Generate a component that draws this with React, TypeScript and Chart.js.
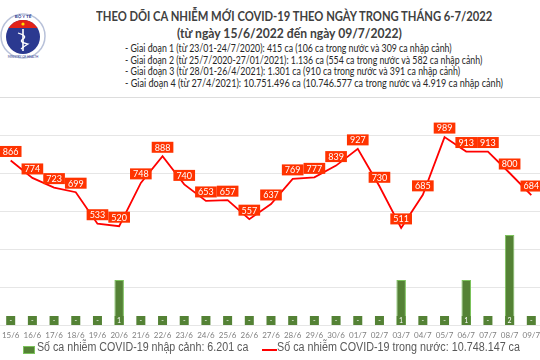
import React, { useEffect, useLayoutEffect, useRef } from 'react';
import { Chart, registerables } from 'chart.js';

Chart.register(...registerables);

const categories = [
  '15/6', '16/6', '17/6', '18/6', '19/6', '20/6', '21/6', '22/6', '23/6', '24/6', '25/6', '26/6', '27/6',
  '28/6', '29/6', '30/6', '01/7', '02/7', '03/7', '04/7', '05/7', '06/7', '07/7', '08/7', '09/7',
];
const domesticCases = [866, 774, 723, 699, 533, 520, 748, 888, 740, 653, 657, 557, 637, 769, 777, 839, 927, 730, 511, 685, 989, 913, 913, 800, 684];
const importedCases = [0, 0, 0, 0, 0, 1, 0, 0, 0, 0, 0, 0, 0, 0, 0, 0, 0, 0, 1, 0, 0, 1, 0, 2, 0];

const titleLine1 = 'THEO DÕI CA NHIỄM MỚI COVID-19 THEO NGÀY TRONG THÁNG 6-7/2022';
const titleLine2 = '(từ ngày 15/6/2022 đến ngày 09/7/2022)';
const phaseLines = [
  '- Giai đoạn 1 (từ 23/01-24/7/2020): 415 ca (106 ca trong nước và 309 ca nhập cảnh)',
  '- Giai đoạn 2 (từ 25/7/2020-27/01/2021): 1.136 ca (554 ca trong nước và 582 ca nhập cảnh)',
  '- Giai đoạn 3 (từ 28/01-26/4/2021): 1.301 ca (910 ca trong nước và 391 ca nhập cảnh)',
  '- Giai đoạn 4 (từ 27/4/2021): 10.751.496 ca (10.746.577 ca trong nước và 4.919 ca nhập cảnh)',
];
const phaseWidths = [327, 357, 335, 378];
const phaseCenters = [52, 63.5, 75, 87];
const legendImported = 'Số ca nhiễm COVID-19 nhập cảnh: 6.201 ca';
const legendDomestic = 'Số ca nhiễm COVID-19 trong nước: 10.748.147 ca';

const BAR_GREEN = '#548235';
const LABEL_RED = '#ff3300';

const labelPlugin = {
  id: 'valueLabels',
  afterDatasetsDraw(chart: any) {
    const ctx = chart.ctx;
    const barMeta = chart.getDatasetMeta(0);
    const lineMeta = chart.getDatasetMeta(1);
    const base = chart.scales.y1.getPixelForValue(0);
    ctx.save();
    ctx.textAlign = 'center';
    ctx.textBaseline = 'middle';
    ctx.font = '7px Lato';
    barMeta.data.forEach((el: any, i: number) => {
      const v = importedCases[i];
      const w = 9, h = 9;
      ctx.fillStyle = BAR_GREEN;
      ctx.fillRect(el.x - w / 2, base - h, w, h);
      ctx.fillStyle = '#ffffff';
      ctx.fillText(v === 0 ? '-' : String(v), el.x, base - h / 2);
    });
    ctx.font = '9px Lato';
    lineMeta.data.forEach((el: any, i: number) => {
      const t = String(domesticCases[i]);
      const tw = ctx.measureText(t).width;
      const w = tw + 6, h = 11;
      const cy = el.y - 9;
      ctx.fillStyle = LABEL_RED;
      ctx.fillRect(el.x - w / 2, cy - h / 2, w, h);
      ctx.fillStyle = '#ffffff';
      ctx.fillText(t, el.x, cy + 0.5);
    });
    ctx.restore();
  },
};

function FitText(props: { text: string; left: number; centerY: number; width: number; font: string; color: string }) {
  const ref = useRef<HTMLDivElement | null>(null);
  useLayoutEffect(() => {
    const el = ref.current;
    if (!el) return;
    const natural = el.scrollWidth;
    if (natural > 0) el.style.transform = `scaleX(${props.width / natural})`;
  }, [props.text, props.width, props.font]);
  return (
    <div
      ref={ref}
      style={{
        position: 'absolute',
        left: props.left,
        top: props.centerY - 10,
        height: 20,
        lineHeight: '20px',
        whiteSpace: 'nowrap',
        font: props.font,
        color: props.color,
        transformOrigin: '0 50%',
        display: 'inline-block',
      }}
    >
      {props.text}
    </div>
  );
}

function Logo() {
  return (
    <svg width="48" height="50" viewBox="0 0 48 50" style={{ position: 'absolute', left: 0, top: 11 }}>
      <circle cx="23" cy="25" r="22" fill="#ffffff" stroke="#b8c1d9" strokeWidth="1.5" />
      <defs>
        <clipPath id="inner">
          <circle cx="23" cy="26" r="17" />
        </clipPath>
      </defs>
      <g clipPath="url(#inner)">
        <rect x="0" y="0" width="48" height="50" fill="#2b3990" />
        <rect x="0" y="0" width="48" height="17" fill="#e2231a" />
      </g>
      <circle cx="23" cy="13" r="1.6" fill="#ffde00" />
      <line x1="23" y1="18" x2="23" y2="40" stroke="#ffffff" strokeWidth="1.6" />
      <path d="M18 22 Q28 25 23 28 Q18 31 28 33 Q23 36 21 38" stroke="#ffffff" strokeWidth="1.2" fill="none" />
      <text x="23" y="6.5" fontSize="4.5" fontFamily="Lato" fontWeight="bold" fill="#2b3990" textAnchor="middle">BỘ Y TẾ</text>
      <text x="23" y="47" fontSize="3" fontFamily="Lato" fill="#2b3990" textAnchor="middle">MINISTRY OF HEALTH</text>
    </svg>
  );
}

export default function App() {
  const canvasRef = useRef<HTMLCanvasElement | null>(null);

  useEffect(() => {
    if (!canvasRef.current) return;
    const chart = new Chart(canvasRef.current, {
      type: 'bar',
      data: {
        labels: categories,
        datasets: [
          {
            type: 'bar',
            label: legendImported,
            data: importedCases,
            yAxisID: 'y1',
            backgroundColor: BAR_GREEN,
            borderColor: '#7cc35c',
            borderWidth: 1,
            barPercentage: 0.44,
            categoryPercentage: 1,
            order: 2,
          },
          {
            type: 'line',
            label: legendDomestic,
            data: domesticCases,
            yAxisID: 'y',
            borderColor: '#ff0000',
            borderWidth: 1.8,
            pointRadius: 0,
            tension: 0,
            fill: false,
            order: 1,
          },
        ],
      } as any,
      options: {
        animation: false,
        responsive: false,
        maintainAspectRatio: false,
        layout: { padding: { top: 16, left: 0, right: 0, bottom: 0 } },
        plugins: { legend: { display: false }, tooltip: { enabled: false } },
        scales: {
          x: {
            grid: { display: false, drawTicks: false },
            border: { display: false },
            ticks: {
              font: { family: 'Lato', size: 8 },
              color: '#808080',
              padding: 6,
              maxRotation: 0,
              autoSkip: false,
            },
            afterFit(s: any) { s.height = 20; },
          },
          y: {
            position: 'left',
            min: 0,
            max: 1100,
            ticks: { display: false, stepSize: 200 },
            grid: { color: '#e6e6e6', drawTicks: false },
            border: { display: false },
            afterFit(s: any) { s.width = 0; },
            afterBuildTicks(s: any) { s.ticks = s.ticks.filter((t: any) => t.value % 200 === 0); },
          },
          y1: { display: false, min: 0, max: 4.64 },
        },
      } as any,
      plugins: [labelPlugin],
    });
    return () => chart.destroy();
  }, []);

  return (
    <div style={{ position: 'fixed', left: 0, top: 0, width: 540, height: 360, overflow: 'hidden', background: '#ffffff' }}>
      <Logo />
      <FitText text={titleLine1} left={96} centerY={17} width={396} font="bold 14px Lato" color="#404040" />
      <FitText text={titleLine2} left={177} centerY={34} width={225} font="bold 14px Lato" color="#404040" />
      {phaseLines.map((t, i) => (
        <FitText key={i} text={t} left={125} centerY={phaseCenters[i]} width={phaseWidths[i]} font="10.5px Lato" color="#262626" />
      ))}
      <div style={{ position: 'absolute', left: 0, top: 97, width: 540, height: 1, background: '#dddddd' }} />
      <canvas ref={canvasRef} width={550} height={245} style={{ position: 'absolute', left: -4, top: 100, width: 550, height: 245 }} />
      <div style={{ position: 'absolute', left: 23, top: 346, width: 12, height: 8, background: BAR_GREEN, boxSizing: 'border-box', border: '1px solid #7cc35c' }} />
      <FitText text={legendImported} left={37} centerY={350} width={211} font='12.5px "Liberation Sans"' color="#595959" />
      <div style={{ position: 'absolute', left: 262, top: 349, width: 15, height: 2, background: '#ff0000' }} />
      <FitText text={legendDomestic} left={277} centerY={350} width={243} font='12.5px "Liberation Sans"' color="#595959" />
    </div>
  );
}
